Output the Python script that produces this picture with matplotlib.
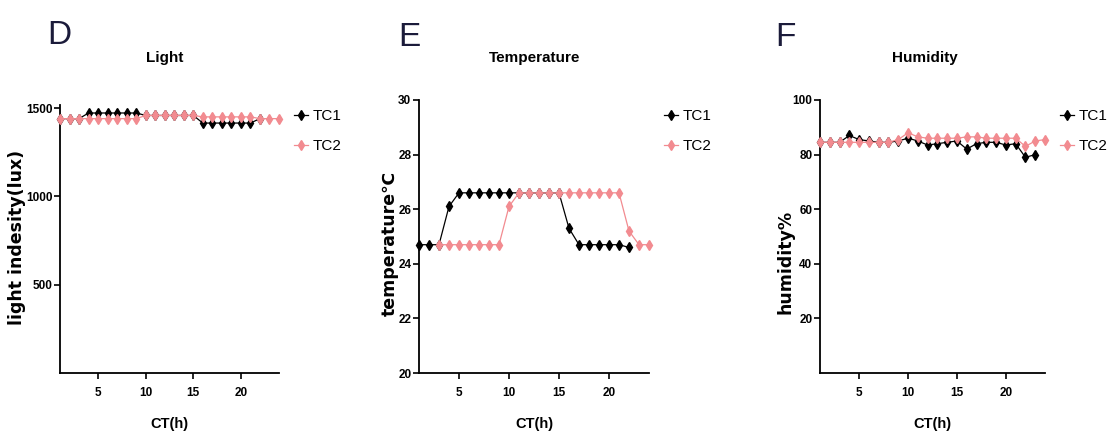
import matplotlib
matplotlib.use("Agg")
import matplotlib.pyplot as plt

# ---------------- data ----------------
light_hours_tc1 = [1, 2, 3, 4, 5, 6, 7, 8, 9, 10, 11, 12, 13, 14, 15, 16, 17, 18, 19, 20, 21, 22]
light_tc1 = [1440, 1440, 1440, 1472, 1472, 1472, 1472, 1472, 1472, 1458, 1458, 1458, 1458, 1458, 1458,
             1415, 1415, 1415, 1415, 1415, 1415, 1440]
light_hours_tc2 = [1, 2, 3, 4, 5, 6, 7, 8, 9, 10, 11, 12, 13, 14, 15, 16, 17, 18, 19, 20, 21, 22, 23, 24]
light_tc2 = [1440, 1440, 1440, 1440, 1440, 1440, 1440, 1440, 1440, 1458, 1458, 1458, 1458, 1458, 1458,
             1450, 1450, 1450, 1450, 1450, 1450, 1440, 1440, 1440]

temp_hours_tc1 = [1, 2, 3, 4, 5, 6, 7, 8, 9, 10, 11, 12, 13, 14, 15, 16, 17, 18, 19, 20, 21, 22]
temp_tc1 = [24.7, 24.7, 24.7, 26.1, 26.6, 26.6, 26.6, 26.6, 26.6, 26.6, 26.6, 26.6, 26.6, 26.6, 26.6,
            25.3, 24.7, 24.7, 24.7, 24.7, 24.7, 24.6]
temp_hours_tc2 = [3, 4, 5, 6, 7, 8, 9, 10, 11, 12, 13, 14, 15, 16, 17, 18, 19, 20, 21, 22, 23, 24]
temp_tc2 = [24.7, 24.7, 24.7, 24.7, 24.7, 24.7, 24.7, 26.1, 26.6, 26.6, 26.6, 26.6, 26.6, 26.6, 26.6,
            26.6, 26.6, 26.6, 26.6, 25.2, 24.7, 24.7]

hum_hours_tc1 = [1, 2, 3, 4, 5, 6, 7, 8, 9, 10, 11, 12, 13, 14, 15, 16, 17, 18, 19, 20, 21, 22, 23]
hum_tc1 = [84.5, 84.5, 84.5, 87, 85.5, 85, 84.5, 84.5, 85, 86, 85, 83.5, 84, 84.5, 85, 82, 84, 84.5,
           84.5, 83.5, 84, 79, 80]
hum_hours_tc2 = [1, 2, 3, 4, 5, 6, 7, 8, 9, 10, 11, 12, 13, 14, 15, 16, 17, 18, 19, 20, 21, 22, 23, 24]
hum_tc2 = [84.5, 84.5, 84.5, 84.5, 84.5, 84.5, 84.5, 84.5, 85.5, 88, 86.5, 86, 86, 86, 86, 86.5, 86.5,
           86, 86, 86, 86, 83, 85, 85.5]

series_names = ["TC1", "TC2"]
panel_letters = ["D", "E", "F"]
titles = ["Light", "Temperature", "Humidity"]
ylabels = ["light indesity(lux)", "temperature\u2103", "humidity%"]
xlabel = "CT(h)"
xticks = [5, 10, 15, 20]
yticks_list = [[500, 1000, 1500], [20, 22, 24, 26, 28, 30], [20, 40, 60, 80, 100]]
ylims = [(0, 1520), (20, 30), (0, 100)]

# ---------------- style ----------------
W, H = 1113, 441
BLACK = "#000000"
PINK = "#F28B90"
SANS = ["Liberation Sans", "DejaVu Sans"]

fig = plt.figure(figsize=(W / 100, H / 100), dpi=100)

# axes boxes in pixels: left, right, top, bottom
boxes = [(60, 279, 104.5, 373), (419, 649, 100, 373), (820, 1045, 100, 373)]
letter_pos = [(59, 35), (409, 38), (785, 38)]
title_x = [165, 535, 925]
ylabel_right = [26, 399, 794]
ylabel_center = [237, 243, 262]

data = [
    (light_hours_tc1, light_tc1, light_hours_tc2, light_tc2),
    (temp_hours_tc1, temp_tc1, temp_hours_tc2, temp_tc2),
    (hum_hours_tc1, hum_tc1, hum_hours_tc2, hum_tc2),
]

for i in range(3):
    l, r, t, b = boxes[i]
    ax = fig.add_axes([l / W, 1 - b / H, (r - l) / W, (b - t) / H])
    x1, y1, x2, y2 = data[i]
    ax.plot(x1, y1, color=BLACK, lw=0.9, marker="d", ms=5.4, mew=1.0,
            label=series_names[0], clip_on=False, zorder=3)
    ax.plot(x2, y2, color=PINK, lw=0.9, marker="d", ms=5.4, mew=1.0,
            label=series_names[1], clip_on=False, zorder=4)
    ax.set_xlim(1, 24)
    ax.set_ylim(*ylims[i])
    ax.set_xticks(xticks)
    ax.set_yticks(yticks_list[i])
    for s in ["top", "right"]:
        ax.spines[s].set_visible(False)
    for s in ["left", "bottom"]:
        ax.spines[s].set_linewidth(1.3)
    ax.tick_params(axis="x", direction="out", length=4, width=1.2, pad=6)
    ax.tick_params(axis="y", direction="out", length=4, width=1.2, pad=1.5)
    for lab in ax.get_xticklabels() + ax.get_yticklabels():
        lab.set_fontfamily(SANS)
        lab.set_fontweight("bold")
        lab.set_fontsize(8.5)
    ax.set_xlabel(xlabel, family=SANS, fontweight="bold", fontsize=10.5, labelpad=13)
    ax.set_ylabel(ylabels[i], family=["DejaVu Sans"], fontweight="bold", fontsize=12.5)
    ax.yaxis.set_label_coords((ylabel_right[i] - l) / (r - l), (b - ylabel_center[i]) / (b - t))

    ax.legend(loc="upper left", bbox_to_anchor=((r + 15) / W, 1 - 109 / H),
              bbox_transform=fig.transFigure, frameon=False, borderpad=0,
              borderaxespad=0, handlelength=0.9, handletextpad=0.3,
              labelspacing=1.05, prop={"family": SANS, "size": 11})

    fig.text(title_x[i] / W, 1 - 58 / H, titles[i], family=SANS, fontweight="bold",
             fontsize=11, ha="center", va="center")
    fig.text(letter_pos[i][0] / W, 1 - letter_pos[i][1] / H, panel_letters[i], family=SANS,
             fontsize=24, color="#1b1b3a", ha="center", va="center")

fig.savefig("out.png", dpi=100)
